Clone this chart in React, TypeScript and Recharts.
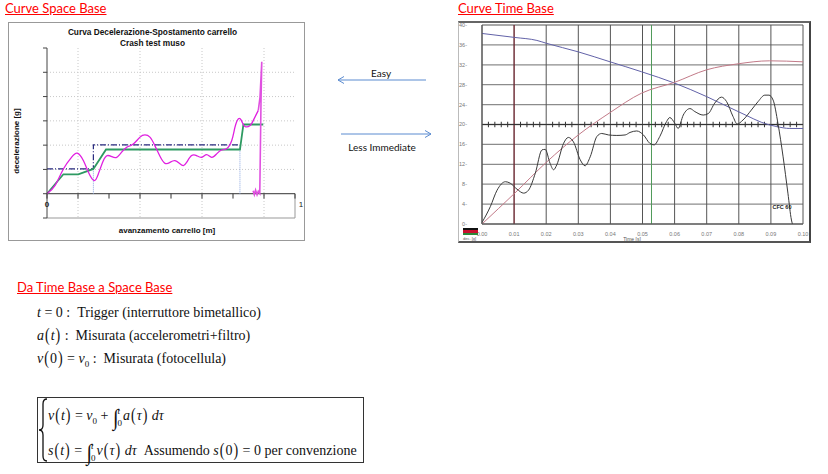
import React from "react"
import {
  LineChart,
  Line,
  XAxis,
  YAxis,
  CartesianGrid,
  ReferenceLine,
  ReferenceDot,
} from "recharts"

// ---------------------------------------------------------------------------
// Curve Space Base (decelerazione vs spostamento)
// ---------------------------------------------------------------------------

const spaceTicksX = [0, 0.125, 0.25, 0.375, 0.5, 0.625, 0.75, 0.875, 1]
const spaceTicksY = [-1, 0, 1, 2, 3, 4, 5, 6]

const magentaWaveX = [0, 0.032, 0.066, 0.099, 0.122, 0.147, 0.167, 0.19, 0.207, 0.227, 0.243, 0.261, 0.281, 0.301, 0.321, 0.348, 0.375, 0.395, 0.415, 0.435, 0.456, 0.476, 0.496, 0.516, 0.536, 0.55, 0.563, 0.583, 0.603, 0.624, 0.644, 0.664, 0.684, 0.704, 0.724, 0.745, 0.758, 0.772, 0.785, 0.798, 0.819, 0.832, 0.852]
const magentaWaveY = [0, 0.33, 1.02, 1.5, 1.67, 1.36, 0.88, 0.54, 0.81, 1.36, 1.57, 1.53, 1.5, 1.71, 1.91, 2.05, 2.33, 2.42, 2.33, 1.98, 1.53, 1.25, 1.29, 1.36, 1.23, 1.16, 1.29, 1.57, 1.57, 1.5, 1.61, 1.5, 1.64, 1.8, 1.85, 2.19, 2.74, 3.09, 2.99, 2.77, 2.81, 3.02, 3.43]

const magentaSpikeX = [0.852, 0.859, 0.866, 0.863, 0.858, 0.852, 0.847, 0.841, 0.836, 0.831]
const magentaSpikeY = [3.43, 3.98, 5.43, 3.84, 0.01, 0.1, -0.04, 0.15, -0.04, 0.12]

const greenX = [0, 0.066, 0.126, 0.187, 0.238, 0.778, 0.792, 0.872]
const greenY = [0, 0.8, 0.8, 1.02, 1.82, 1.82, 2.85, 2.85]

const dashDotX = [0, 0.187, 0.187, 0.778]
const dashDotY = [1.02, 1.02, 2.01, 2.01]

const dropX = [0.187, 0.778]
const dropY = [1.02, 2.01]

// ---------------------------------------------------------------------------
// Curve Time Base
// ---------------------------------------------------------------------------

const timeTicks = [0, 0.01, 0.02, 0.03, 0.04, 0.05, 0.06, 0.07, 0.08, 0.09, 0.1]
const valueTicks = [0, 4, 8, 12, 16, 20, 24, 28, 32, 36, 40]
const minorTicks = timeTicks.slice(0, -1).flatMap((t) => [2, 4, 6, 8].map((k) => +(t + k / 1000).toFixed(3)))

const velX = [0, 0.0102, 0.0171, 0.0202, 0.03, 0.0399, 0.0497, 0.0601, 0.07, 0.0798, 0.0896, 0.0917, 0.0959, 0.1]
const velY = [38.3, 37.5, 36.9, 36.3, 34.6, 32.6, 30.6, 28.3, 25.6, 22.6, 19.9, 19.6, 19.2, 19.2]

const dispX = [0, 0.0102, 0.0202, 0.03, 0.0399, 0.0497, 0.0601, 0.07, 0.0798, 0.0896, 0.1]
const dispY = [0, 6.2, 12.5, 17.9, 22.4, 26.3, 28.5, 31.0, 32.2, 32.8, 32.6]

const accX = [0, 0.0026, 0.0047, 0.0073, 0.0088, 0.0109, 0.013, 0.0145, 0.0166, 0.0187, 0.0197, 0.0212, 0.0223, 0.0233, 0.0254, 0.0269, 0.0285, 0.0306, 0.0321, 0.0337, 0.0358, 0.0373, 0.0394, 0.042, 0.0446, 0.0461, 0.0482, 0.0503, 0.0523, 0.0536, 0.0554, 0.0575, 0.0585, 0.0601, 0.0611, 0.0627, 0.0648, 0.0663, 0.0689, 0.0705, 0.0725, 0.0746, 0.0762, 0.0782, 0.0795, 0.0813, 0.0839, 0.086, 0.0881, 0.0894, 0.0907, 0.0922, 0.0938, 0.0953, 0.0964, 0.0967]
const accY = [0.3, 3.5, 6.8, 8.5, 8.2, 7.0, 6.2, 6.8, 10.2, 14.9, 15.0, 12.2, 10.9, 11.9, 16.2, 17.4, 16.5, 12.9, 11.7, 13.5, 17.6, 18.2, 17.9, 17.8, 17.9, 18.4, 18.7, 17.9, 16.2, 15.9, 17.6, 20.6, 21.4, 20.2, 19.2, 21.9, 23.2, 22.6, 21.9, 22.2, 24.3, 25.5, 24.6, 21.6, 20.1, 20.9, 22.9, 24.6, 25.9, 25.9, 24.9, 20.2, 13.5, 6.2, 0.8, 0]

// ---------------------------------------------------------------------------
// Helpers
// ---------------------------------------------------------------------------

const zip = (xs: number[], ys: number[]) => xs.map((x, i) => ({ x, y: ys[i] }))

const SANS = "'Liberation Sans', Arial, sans-serif"
const SLIDE = "Lato, 'Open Sans', sans-serif"
const SERIF = "'Liberation Serif', 'Times New Roman', serif"

const heading: React.CSSProperties = {
  position: "absolute",
  color: "#ff0000",
  textDecoration: "underline",
  fontFamily: SLIDE,
  fontSize: 13,
  lineHeight: "16px",
  whiteSpace: "nowrap",
}

function SpaceChart() {
  return (
    <LineChart
      width={297}
      height={219}
      margin={{ top: 26, right: 10, bottom: 23, left: 34 }}
      style={{ position: "absolute", left: 8, top: 22 }}
    >
      <CartesianGrid
        stroke="#c8c8c8"
        strokeDasharray="1 2"
        horizontalValues={[1, 2, 3, 4, 5]}
        verticalValues={[0.125, 0.25, 0.375, 0.5, 0.625, 0.75, 0.875]}
      />
      <XAxis type="number" dataKey="x" domain={[0, 1]} ticks={spaceTicksX} hide />
      <YAxis
        type="number"
        dataKey="y"
        domain={[-1, 6]}
        ticks={spaceTicksY}
        width={5}
        tickSize={4}
        tickFormatter={() => ""}
        stroke="#444"
      />
      <ReferenceLine y={-1} stroke="#999" />
      <ReferenceLine segment={[{ x: 1, y: -1 }, { x: 1, y: 0 }]} stroke="#999" />
      <ReferenceLine y={0} stroke="#333" />
      {spaceTicksX.map((t) => (
        <ReferenceLine key={t} segment={[{ x: t, y: 0 }, { x: t, y: -0.2 }]} stroke="#333" />
      ))}
      <ReferenceDot x={0} y={-0.42} r={0} label={{ value: "0", fontSize: 8, fontWeight: 700, fill: "#222", fontFamily: SANS }} />
      <ReferenceDot x={1} y={-0.42} r={0} label={{ value: "1", fontSize: 8, fill: "#222", fontFamily: SANS, dx: 6 }} />

      {dropX.map((x, i) => (
        <ReferenceLine key={x} segment={[{ x, y: 0 }, { x, y: dropY[i] }]} stroke="#8aa6e0" strokeDasharray="1 1" />
      ))}
      <Line data={zip(dashDotX, dashDotY)} dataKey="y" type="linear" stroke="#27287e" strokeWidth={1.2} strokeDasharray="6 2 1 2" dot={false} isAnimationActive={false} />
      <Line data={zip(greenX, greenY)} dataKey="y" type="linear" stroke="#2e9a62" strokeWidth={1.8} dot={false} isAnimationActive={false} />
      <Line data={zip(magentaWaveX, magentaWaveY)} dataKey="y" type="natural" stroke="#e020e0" strokeWidth={1.3} dot={false} isAnimationActive={false} />
      <Line data={zip(magentaSpikeX, magentaSpikeY)} dataKey="y" type="linear" stroke="#e050e0" strokeWidth={1.6} dot={false} isAnimationActive={false} />
    </LineChart>
  )
}

function TimeChart() {
  const tickStyle = { fontSize: 5.5, fill: "#777", fontFamily: SANS }
  return (
    <LineChart
      width={353}
      height={222}
      margin={{ top: 4, right: 8, bottom: 7, left: 4 }}
      style={{ position: "absolute", left: 458, top: 21 }}
    >
      <CartesianGrid stroke="#8c8c8c" strokeWidth={1.3} vertical={false} />
      <CartesianGrid stroke="#555" horizontal={false} />
      <XAxis
        type="number"
        dataKey="x"
        domain={[0, 0.1]}
        ticks={timeTicks}
        tickFormatter={(v: number) => v.toFixed(2)}
        tick={tickStyle}
        tickLine={false}
        axisLine={{ stroke: "#555" }}
        tickMargin={2}
        height={12}
        interval={0}
      />
      <YAxis
        type="number"
        dataKey="y"
        domain={[0, 40]}
        ticks={valueTicks}
        tickFormatter={(v: number) => `${v}-`}
        tick={tickStyle}
        tickLine={false}
        axisLine={{ stroke: "#555" }}
        tickMargin={9}
        width={20}
        interval={0}
      />
      <ReferenceLine x={0.01} stroke="#7c1f2c" />
      <ReferenceLine x={0.0528} stroke="#4f9a5a" />
      <ReferenceLine y={20} stroke="#333" />
      {minorTicks.map((t) => (
        <ReferenceLine key={t} segment={[{ x: t, y: 19.45 }, { x: t, y: 20.55 }]} stroke="#333" />
      ))}
      <Line data={zip(velX, velY)} dataKey="y" type="monotone" stroke="#6262a8" strokeWidth={1} dot={false} isAnimationActive={false} />
      <Line data={zip(dispX, dispY)} dataKey="y" type="monotone" stroke="#c27a88" strokeWidth={1} dot={false} isAnimationActive={false} />
      <Line data={zip(accX, accY)} dataKey="y" type="monotone" stroke="#3a3a3a" strokeWidth={1} dot={false} isAnimationActive={false} />
    </LineChart>
  )
}

// ---------------------------------------------------------------------------
// Formule
// ---------------------------------------------------------------------------

function Int({ lo, hi }: { lo: string; hi: string }) {
  return (
    <span style={{ display: "inline-flex", alignItems: "center", verticalAlign: "middle", margin: "0 1px" }}>
      <span style={{ fontSize: 20, lineHeight: "20px", display: "inline-block", transform: "scaleY(1.15)" }}>∫</span>
      <span style={{ display: "inline-flex", flexDirection: "column", fontSize: 9, lineHeight: "10px", marginLeft: -1 }}>
        <i>{hi}</i>
        <span style={{ marginTop: 2 }}>{lo}</span>
      </span>
    </span>
  )
}

const I = ({ children }: { children: React.ReactNode }) => <i>{children}</i>

function P({ children }: { children: React.ReactNode }) {
  const paren: React.CSSProperties = { display: "inline-block", transform: "scaleY(1.3)", margin: "0 1px" }
  return (
    <>
      <span style={paren}>(</span>
      {children}
      <span style={paren}>)</span>
    </>
  )
}

export default function App() {
  return (
    <div style={{ position: "absolute", left: 0, top: 0, width: 828, height: 474, background: "#fff", overflow: "hidden" }}>
      {/* Titoli */}
      <div style={{ ...heading, left: 5, top: 0 }}>Curve Space Base</div>
      <div style={{ ...heading, left: 458, top: 0 }}>Curve Time Base</div>

      {/* Grafico space base */}
      <div style={{ position: "absolute", left: 8, top: 22, width: 297, height: 219, border: "1px solid #999", boxSizing: "border-box" }} />
      <div style={{ position: "absolute", left: 4, top: 27, width: 297, textAlign: "center", fontFamily: SANS, fontWeight: 700, fontSize: 8.3, lineHeight: "10.5px", color: "#111" }}>
        Curva Decelerazione-Spostamento carrello
        <br />
        Crash test muso
      </div>
      <SpaceChart />
      <div style={{ position: "absolute", left: 16, top: 141, transform: "translate(-50%, -50%) rotate(-90deg)", fontFamily: SANS, fontWeight: 700, fontSize: 8, whiteSpace: "nowrap", color: "#111" }}>
        decelerazione [g]
      </div>
      <div style={{ position: "absolute", left: 167, top: 230, transform: "translate(-50%, -50%)", fontFamily: SANS, fontWeight: 700, fontSize: 8, whiteSpace: "nowrap", color: "#111" }}>
        avanzamento carrello [m]
      </div>

      {/* Frecce */}
      <svg style={{ position: "absolute", left: 0, top: 0 }} width={828} height={474}>
        <g stroke="#5b8bd0" strokeWidth={1} fill="none">
          <line x1={426} y1={80} x2={338} y2={80} />
          <polyline points="344,76.5 338,80 344,83.5" />
          <line x1={341} y1={134} x2={431} y2={134} />
          <polyline points="425,130.5 431,134 425,137.5" />
        </g>
        <path d="M47,399 Q43,399 43,404 L43,425 Q43,430 39,430 Q43,430 43,435 L43,456 Q43,461 47,461" stroke="#111" strokeWidth={1.3} fill="none" />
      </svg>
      <div style={{ position: "absolute", left: 381, top: 73, transform: "translate(-50%, -50%)", fontFamily: SLIDE, fontSize: 10, color: "#111" }}>Easy</div>
      <div style={{ position: "absolute", left: 382, top: 147, transform: "translate(-50%, -50%)", fontFamily: SLIDE, fontSize: 10, color: "#111", whiteSpace: "nowrap" }}>Less Immediate</div>

      {/* Grafico time base */}
      <div style={{ position: "absolute", left: 458, top: 21, width: 353, height: 222, borderLeft: "1px solid #bbb", borderTop: "2px solid #666", borderRight: "2px solid #444", borderBottom: "2px solid #555", boxSizing: "border-box" }} />
      <TimeChart />
      <div style={{ position: "absolute", left: 463, top: 228, width: 15, height: 7, background: "linear-gradient(#111 0 33%, #c8102e 33% 66%, #2a8a3a 66% 100%)" }} />
      <div style={{ position: "absolute", left: 463, top: 236, fontFamily: SANS, fontSize: 4, color: "#555" }}>dec. [g]</div>
      <div style={{ position: "absolute", left: 632, top: 239, transform: "translate(-50%, -50%)", fontFamily: SANS, fontSize: 5, color: "#555", whiteSpace: "nowrap" }}>Time [s]</div>
      <div style={{ position: "absolute", left: 782, top: 207, transform: "translate(-50%, -50%)", fontFamily: SANS, fontSize: 5.5, fontWeight: 700, color: "#222", whiteSpace: "nowrap" }}>CFC 60</div>

      {/* Da Time Base a Space Base */}
      <div style={{ ...heading, left: 17, top: 279 }}>Da Time Base a Space Base</div>
      <div style={{ position: "absolute", left: 37, top: 301, fontFamily: SERIF, fontSize: 14, lineHeight: "23px", color: "#111", whiteSpace: "nowrap" }}>
        <div><I>t</I> = 0 : &nbsp;Trigger (interruttore bimetallico)</div>
        <div><I>a</I><P><I>t</I></P> : &nbsp;Misurata (accelerometri+filtro)</div>
        <div><I>v</I><P>0</P> = <I>v</I><sub style={{ fontSize: 9 }}>0</sub> : &nbsp;Misurata (fotocellula)</div>
      </div>
      <div style={{ position: "absolute", left: 37, top: 397, width: 327, height: 66, border: "1.5px solid #333", boxSizing: "border-box" }} />
      <div style={{ position: "absolute", left: 48, top: 401, fontFamily: SERIF, fontSize: 14, lineHeight: "29px", color: "#111", whiteSpace: "nowrap" }}>
        <div>
          <I>v</I><P><I>t</I></P> = <I>v</I><sub style={{ fontSize: 9 }}>0</sub> + <Int lo="0" hi="t" /><I>a</I><P><I>τ</I></P><I> dτ</I>
        </div>
        <div>
          <I>s</I><P><I>t</I></P> = <Int lo="0" hi="t" /><I>v</I><P><I>τ</I></P><I> dτ</I> &nbsp;Assumendo <I>s</I><P>0</P> = 0 per convenzione
        </div>
      </div>
    </div>
  )
}
